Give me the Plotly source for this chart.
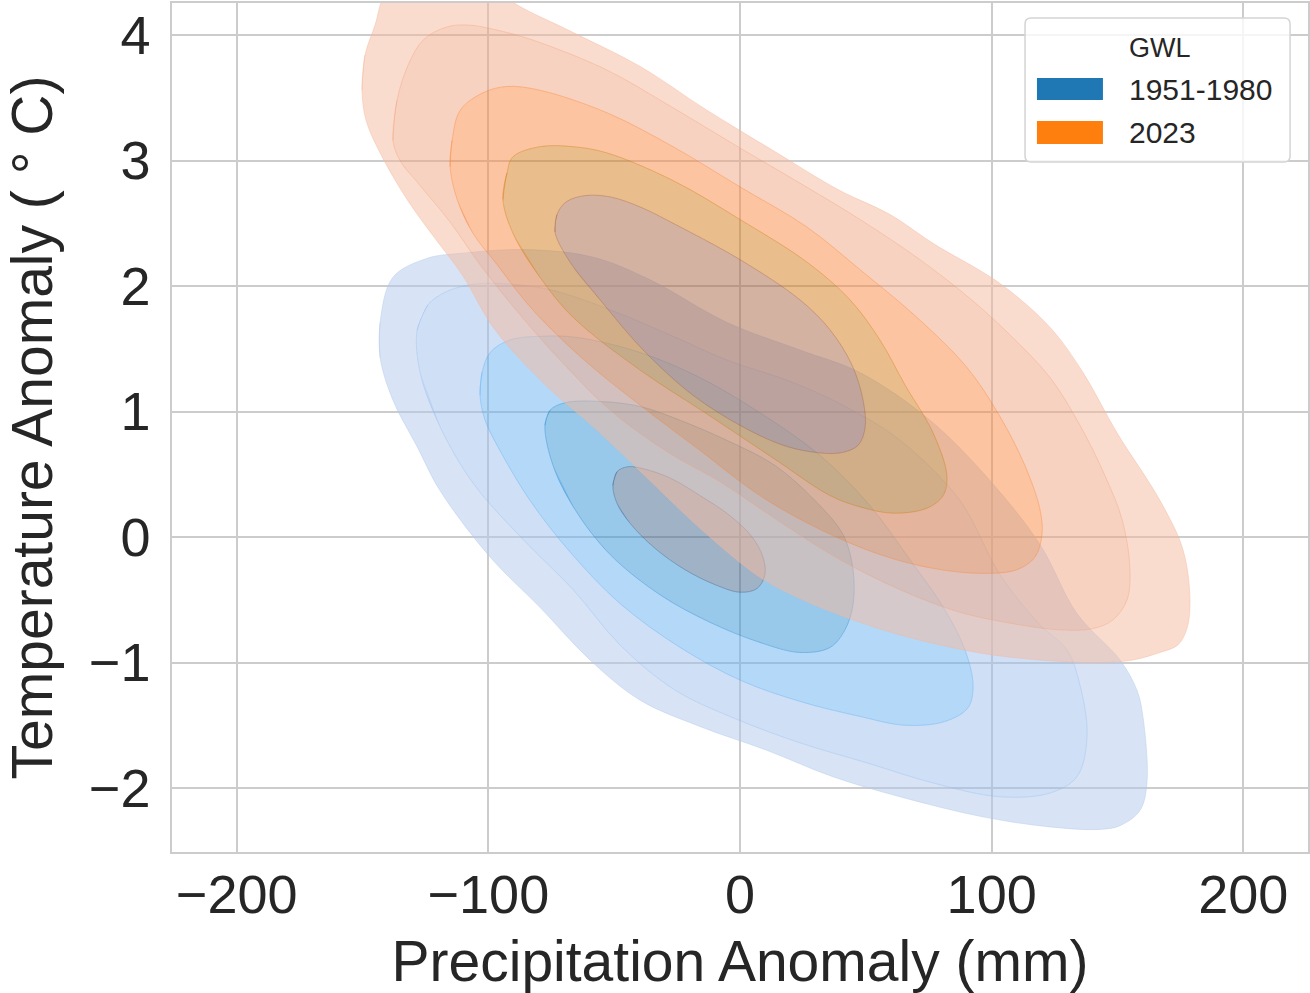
import plotly.graph_objects as go

# ---------------- data ----------------
groups = ["1951-1980", "2023"]
legend_title = "GWL"
legend_colors = ["#1f77b4", "#ff7f0e"]
x_ticks = [-200, -100, 0, 100, 200]
y_ticks = [-2, -1, 0, 1, 2, 3, 4]

# KDE density contour levels (outer -> inner), precipitation anomaly (mm) / temperature anomaly (degC)
# ---- GWL 1951-1980 ----
b1_x = [-143.0, -143.0, -137.9, -124.4, -111.2, -84.6, -58.4, -35.8, -5.2, 23.8, 47.7, 75.5, 99.3, 119.2, 133.9,
        151.0, 157.7, 160.1, 161.7, 158.9, 151.0, 143.0, 123.2, 96.5, 63.6, 36.9, 10.7, -15.9, -39.7, -59.6,
        -79.5, -99.3, -119.2, -128.3, -137.9]
b1_y = [1.43, 1.71, 2.07, 2.22, 2.26, 2.29, 2.23, 2.05, 1.71, 1.49, 1.31, 0.93, 0.45, -0.06, -0.61,
        -0.98, -1.22, -1.43, -1.96, -2.18, -2.30, -2.33, -2.31, -2.23, -2.07, -1.91, -1.70, -1.51, -1.30, -0.98,
        -0.56, -0.16, 0.37, 0.72, 1.09]
b2_x = [-128.3, -124.0, -117.2, -107.3, -95.4, -75.5, -51.6, -27.8, -5.2, 19.9, 40.9, 63.6, 87.4, 103.3, 119.2,
        129.9, 135.1, 137.9, 133.9, 123.2, 103.3, 76.7, 50.5, 23.8, -2.8, -25.8, -47.7, -66.3, -86.2, -106.1,
        -119.2, -127.1]
b2_y = [1.65, 1.85, 1.95, 2.01, 2.02, 1.97, 1.81, 1.61, 1.41, 1.24, 1.05, 0.77, 0.29, -0.30, -0.70,
        -0.90, -1.18, -1.59, -1.91, -2.04, -2.07, -1.96, -1.80, -1.64, -1.44, -1.22, -0.86, -0.42, -0.02, 0.43,
        0.88, 1.31]
b3_x = [-103.3, -102.5, -99.3, -91.4, -78.3, -64.8, -39.7, -15.9, 7.9, 31.8, 51.6, 67.5, 81.4, 89.4, 92.6,
        90.6, 81.4, 65.6, 47.7, 23.8, 0.0, -23.8, -47.7, -67.5, -83.4, -95.4, -101.3]
b3_y = [1.13, 1.31, 1.47, 1.57, 1.60, 1.59, 1.47, 1.27, 0.99, 0.65, 0.25, -0.18, -0.58, -0.90, -1.18,
        -1.36, -1.47, -1.50, -1.43, -1.31, -1.14, -0.88, -0.53, -0.12, 0.29, 0.69, 0.93]
b4_x = [-77.5, -75.5, -69.5, -55.6, -39.7, -23.8, -5.2, 13.9, 29.8, 40.9, 44.9, 44.9, 41.7, 35.8, 23.8,
        7.9, -11.9, -31.8, -51.6, -65.6, -74.3]
b4_y = [0.89, 1.01, 1.07, 1.08, 1.04, 0.93, 0.77, 0.57, 0.29, 0.02, -0.26, -0.54, -0.74, -0.88, -0.92,
        -0.84, -0.68, -0.46, -0.14, 0.22, 0.57]
b5_x = [-50.5, -48.9, -44.5, -37.7, -27.8, -15.9, -4.0, 4.8, 9.1, 9.9, 6.8, 0.0, -9.9, -21.9, -33.8,
        -43.7, -48.9]
b5_y = [0.41, 0.52, 0.56, 0.54, 0.47, 0.33, 0.17, 0.00, -0.16, -0.30, -0.41, -0.44, -0.38, -0.26, -0.09,
        0.11, 0.27]

# ---- GWL 2023 ----
o1_x = [-150.2, -149.0, -145.0, -141.0, -127.1, -107.3, -90.2, -66.3, -39.7, -13.1, 13.1, 39.7, 59.6, 76.7, 103.3,
        123.2, 136.3, 149.8, 166.9, 176.0, 178.8, 177.6, 174.0, 166.9, 156.1, 143.0, 119.2, 94.2, 63.6, 44.9,
        23.8, 7.9, -15.9, -35.8, -58.4, -76.7, -97.3, -110.4, -121.2, -132.3, -143.0, -148.6]
o1_y = [3.56, 3.84, 4.08, 4.32, 4.52, 4.52, 4.26, 4.02, 3.75, 3.40, 3.08, 2.76, 2.57, 2.34, 2.02,
        1.67, 1.31, 0.83, 0.29, -0.10, -0.50, -0.73, -0.86, -0.92, -0.98, -1.00, -0.98, -0.92, -0.78, -0.66,
        -0.49, -0.32, 0.07, 0.45, 0.88, 1.20, 1.65, 2.09, 2.38, 2.69, 3.06, 3.32]
o2_x = [-137.9, -136.3, -131.9, -125.9, -117.2, -108.5, -92.6, -79.5, -52.8, -26.6, 0.0, 23.8, 47.7, 71.5, 91.4,
        107.3, 123.2, 135.1, 145.0, 151.8, 154.9, 153.8, 148.2, 140.2, 127.1, 111.2, 87.4, 63.6, 39.7, 15.9,
        -7.9, -29.0, -51.6, -71.5, -87.4, -103.3, -115.2, -127.1, -135.1]
o2_y = [3.16, 3.48, 3.76, 3.96, 4.06, 4.08, 4.02, 3.94, 3.72, 3.42, 3.10, 2.82, 2.53, 2.21, 1.90,
        1.61, 1.27, 0.89, 0.49, 0.14, -0.24, -0.50, -0.66, -0.73, -0.74, -0.70, -0.60, -0.42, -0.18, 0.12,
        0.44, 0.68, 1.01, 1.41, 1.77, 2.17, 2.51, 2.80, 3.00]
o3_x = [-115.2, -114.4, -111.2, -102.1, -92.6, -79.5, -52.8, -26.6, 0.0, 26.6, 47.7, 70.3, 90.2, 103.3, 113.2,
        119.2, 120.0, 117.2, 110.1, 96.5, 76.7, 55.6, 31.8, 7.9, -15.9, -39.7, -59.6, -76.7, -86.2, -96.5,
        -106.1, -112.4]
o3_y = [2.95, 3.16, 3.40, 3.54, 3.59, 3.56, 3.38, 3.11, 2.79, 2.47, 2.13, 1.75, 1.35, 0.96, 0.57,
        0.22, 0.02, -0.16, -0.26, -0.29, -0.25, -0.14, 0.06, 0.33, 0.69, 1.05, 1.37, 1.69, 1.90, 2.17,
        2.42, 2.69]
o4_x = [-94.2, -92.6, -90.2, -79.5, -66.3, -52.8, -26.6, 0.0, 26.6, 43.7, 55.6, 65.6, 76.7, 82.2, 80.7,
        74.3, 60.8, 47.7, 35.8, 13.1, -13.1, -39.7, -66.3, -79.5, -90.2]
o4_y = [2.69, 2.90, 3.03, 3.11, 3.11, 3.06, 2.84, 2.53, 2.19, 1.89, 1.57, 1.21, 0.83, 0.49, 0.33,
        0.23, 0.19, 0.24, 0.33, 0.63, 0.98, 1.33, 1.75, 2.07, 2.42]
o5_x = [-73.5, -72.7, -69.1, -61.6, -51.6, -39.7, -26.6, 0.0, 23.8, 35.8, 44.5, 48.9, 49.7, 46.9, 39.7,
        27.8, 15.9, 0.0, -18.7, -38.5, -55.6, -67.5]
o5_y = [2.43, 2.57, 2.67, 2.72, 2.71, 2.63, 2.50, 2.21, 1.89, 1.65, 1.37, 1.09, 0.87, 0.73, 0.67,
        0.68, 0.74, 0.89, 1.13, 1.49, 1.89, 2.19]

levels = {
    "1951-1980": [(b1_x, b1_y), (b2_x, b2_y), (b3_x, b3_y), (b4_x, b4_y), (b5_x, b5_y)],
    "2023": [(o1_x, o1_y), (o2_x, o2_y), (o3_x, o3_y), (o4_x, o4_y), (o5_x, o5_y)],
}

# ---------------- style ----------------
band_rgb = {
    "1951-1980": [(177, 201, 235), (157, 191, 237), (105, 177, 241), (49, 145, 213), (65, 101, 141)],
    "2023": [(245, 185, 157), (241, 165, 129), (249, 137, 65), (213, 125, 25), (169, 101, 69)],
}
FILL_A = 0.5
LINE_A = 0.45
FONT = "Liberation Sans, Arial, Helvetica, sans-serif"
TXT = "#262626"
GRID = "#cccccc"


def ring(xs, ys, reverse=False):
    xs, ys = list(xs), list(ys)
    assert len(xs) == len(ys)
    if reverse:
        xs, ys = xs[::-1], ys[::-1]
    # repeat the first two vertices so the smoothed outline closes cleanly
    return xs + xs[:2], ys + ys[:2]


fig = go.Figure()

for g in groups:
    lv = levels[g]
    cols = band_rgb[g]
    for k in range(len(lv)):
        ox, oy = ring(*lv[k])
        if k + 1 < len(lv):
            ix, iy = ring(*lv[k + 1], reverse=True)
            xs, ys = ox + [None] + ix, oy + [None] + iy
        else:
            xs, ys = ox, oy
        r, gg, b = cols[k]
        fig.add_trace(go.Scatter(
            x=xs, y=ys, mode="none", fill="toself",
            fillcolor=f"rgba({r},{gg},{b},{FILL_A})",
            line=dict(shape="spline", smoothing=1.0),
            connectgaps=False, hoverinfo="skip", showlegend=False, name=g,
        ))
    for k in range(len(lv)):
        lx, ly = ring(*lv[k])
        r, gg, b = cols[k]
        fig.add_trace(go.Scatter(
            x=lx, y=ly, mode="lines",
            line=dict(color=f"rgba({r},{gg},{b},{LINE_A})", width=1, shape="spline", smoothing=1.0),
            hoverinfo="skip", showlegend=False, name=g,
        ))

fig.update_layout(
    width=1310, height=993,
    margin=dict(l=172, r=2, t=3, b=141, autoexpand=False),
    plot_bgcolor="white", paper_bgcolor="white",
    showlegend=False,
    font=dict(family=FONT, color=TXT),
)

axis_common = dict(
    showgrid=True, gridcolor=GRID, gridwidth=1.5, zeroline=False,
    showline=True, linecolor=GRID, linewidth=1.5, mirror=True,
    ticks="outside", tickcolor="rgba(0,0,0,0)",
    tickfont=dict(size=54, family=FONT, color=TXT),
)
fig.update_xaxes(
    range=[-225.7, 225.7], tickvals=x_ticks, ticklen=0, ticklabelstandoff=-6, **axis_common,
    title=dict(text="Precipitation Anomaly (mm)", font=dict(size=57, family=FONT, color=TXT), standoff=23),
)
fig.update_yaxes(
    range=[-2.51, 4.255], tickvals=y_ticks, ticklen=9, **axis_common,
    title=dict(text="Temperature Anomaly ( ° C)", font=dict(size=57, family=FONT, color=TXT), standoff=20),
)

# ---------------- legend (matplotlib-style box) ----------------
x0, x1, y0, y1 = 0.7509, 0.9842, 0.8127, 0.9823
rx, ry = 0.0053, 0.0071
box = (f"M{x0+rx},{y0} L{x1-rx},{y0} Q{x1},{y0} {x1},{y0+ry} L{x1},{y1-ry} Q{x1},{y1} {x1-rx},{y1} "
       f"L{x0+rx},{y1} Q{x0},{y1} {x0},{y1-ry} L{x0},{y0+ry} Q{x0},{y0} {x0+rx},{y0} Z")
shapes = [dict(type="path", xref="paper", yref="paper", path=box,
               fillcolor="rgba(255,255,255,0.8)", line=dict(color="#d4d4d4", width=1.5), layer="above")]
patch_rows = [(0.8857, 0.9117, 0.8987), (0.8339, 0.8610, 0.8469)]
annotations = [dict(text=legend_title, xref="paper", yref="paper", x=0.8697, y=0.9470,
                    xanchor="center", yanchor="middle", showarrow=False,
                    font=dict(size=27, family=FONT, color=TXT))]
for (py0, py1, ty), name, col in zip(patch_rows, groups, legend_colors):
    shapes.append(dict(type="rect", xref="paper", yref="paper", x0=0.7614, x1=0.8195, y0=py0, y1=py1,
                       fillcolor=col, line=dict(width=0), layer="above"))
    annotations.append(dict(text=name, xref="paper", yref="paper", x=0.8405, y=ty,
                            xanchor="left", yanchor="middle", showarrow=False,
                            font=dict(size=30, family=FONT, color=TXT)))
fig.update_layout(shapes=shapes, annotations=annotations)

fig.write_html("out.html", config={"displayModeBar": False},
               post_script="document.body.style.margin='0px';")
